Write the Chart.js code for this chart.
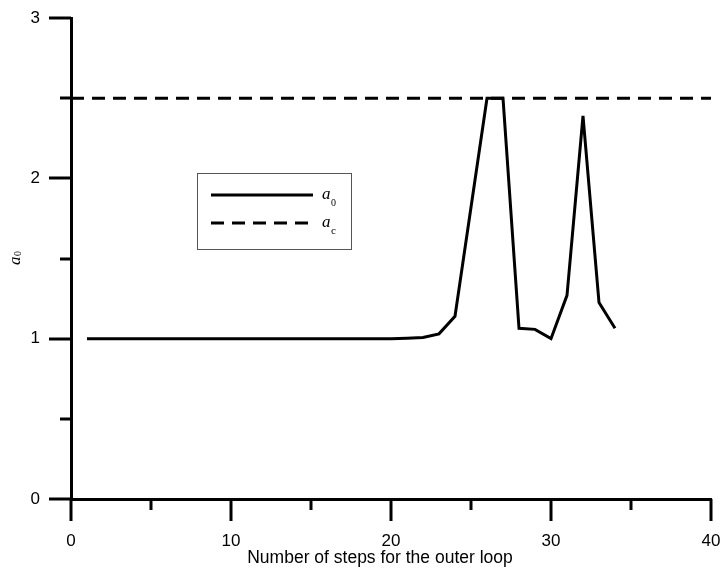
<!DOCTYPE html>
<html>
<head>
<meta charset="utf-8">
<script src="https://cdn.jsdelivr.net/npm/chart.js@4/dist/chart.umd.min.js"></script>
<style>
  html, body { margin: 0; padding: 0; background: #fff; }
  #wrap { width: 723px; height: 574px; }
</style>
</head>
<body>
<div id="wrap"><canvas id="c" width="723" height="574"></canvas></div>
<script>
// Outer-loop step number and the a0 value reached at each step
const steps = [1, 2, 3, 4, 5, 6, 7, 8, 9, 10, 11, 12, 13, 14, 15, 16, 17,
  18, 19, 20, 21, 22, 23, 24, 25, 26, 27, 28, 29, 30, 31, 32, 33, 34];
const a0Values = [1.0, 1.0, 1.0, 1.0, 1.0, 1.0, 1.0, 1.0, 1.0, 1.0, 1.0, 1.0,
  1.0, 1.0, 1.0, 1.0, 1.0, 1.0, 1.0, 1.0, 1.003, 1.008, 1.03, 1.14, 1.82, 2.5,
  2.5, 1.065, 1.058, 1.0, 1.27, 2.39, 1.225, 1.065];

// Critical value a_c, drawn across the full step range
const acSteps = [0, 40];
const acValues = [2.5, 2.5];

// Labelled (major) ticks; the half-way ticks are unlabelled
const xMajorTicks = [0, 10, 20, 30, 40];
const yMajorTicks = [0, 1, 2, 3];

const xTitle = 'Number of steps for the outer loop';

const labelFont = "'Liberation Sans', Arial, sans-serif";
const mathFont = "'Liberation Serif', 'Times New Roman', serif";

// Outward tick marks: long for labelled ticks, short for the others
const tickMarks = {
  id: 'tickMarks',
  afterDraw(chart) {
    const ctx = chart.ctx;
    const xs = chart.scales.x, ys = chart.scales.y;
    const area = chart.chartArea;
    ctx.save();
    ctx.strokeStyle = '#000';
    ctx.lineWidth = 3;
    ctx.lineCap = 'butt';
    xs.ticks.forEach(t => {
      const px = Math.round(xs.getPixelForValue(t.value));
      const len = xMajorTicks.includes(t.value) ? 22 : 11;
      ctx.beginPath();
      ctx.moveTo(px, area.bottom);
      ctx.lineTo(px, area.bottom + len);
      ctx.stroke();
    });
    ys.ticks.forEach(t => {
      const py = Math.round(ys.getPixelForValue(t.value));
      const len = yMajorTicks.includes(t.value) ? 22 : 11;
      ctx.beginPath();
      ctx.moveTo(area.left, py);
      ctx.lineTo(area.left - len, py);
      ctx.stroke();
    });
    ctx.restore();
  }
};

// Draws an italic symbol with a small subscript at (x, y) baseline
function drawSymbol(ctx, base, sub, x, y, size, subSize, drop) {
  ctx.font = 'italic ' + size + 'px ' + mathFont;
  ctx.textBaseline = 'alphabetic';
  ctx.textAlign = 'left';
  ctx.fillText(base, x, y);
  const w = ctx.measureText(base).width;
  ctx.font = subSize + 'px ' + mathFont;
  ctx.fillText(sub, x + w + 0.5, y + drop);
}

// Boxed legend, axis title and the rotated y-axis symbol
const symbolsAndLegend = {
  id: 'symbolsAndLegend',
  afterDraw(chart) {
    const ctx = chart.ctx;
    ctx.save();
    ctx.fillStyle = '#000';

    // legend frame
    ctx.strokeStyle = '#555';
    ctx.lineWidth = 1;
    ctx.strokeRect(197.5, 173.5, 154, 76);

    // legend samples
    ctx.strokeStyle = '#000';
    ctx.lineWidth = 3;
    ctx.beginPath();
    ctx.moveTo(211, 195);
    ctx.lineTo(313, 195);
    ctx.stroke();
    ctx.setLineDash([13, 8]);
    ctx.beginPath();
    ctx.moveTo(211, 223);
    ctx.lineTo(313, 223);
    ctx.stroke();
    ctx.setLineDash([]);

    drawSymbol(ctx, 'a', '0', 322, 199, 17, 10, 6.5);
    drawSymbol(ctx, 'a', 'c', 322, 227, 17, 11, 6.5);

    // x-axis title
    ctx.font = '17.5px ' + labelFont;
    ctx.textAlign = 'center';
    ctx.textBaseline = 'alphabetic';
    ctx.fillText(xTitle, 380, 563);

    // y-axis title
    ctx.translate(20, 265);
    ctx.rotate(-Math.PI / 2);
    drawSymbol(ctx, 'a', '0', 0, 0, 17, 10, 1);
    ctx.restore();
  }
};

new Chart(document.getElementById('c'), {
  type: 'line',
  data: {
    datasets: [
      {
        label: 'a0',
        data: steps.map((s, i) => ({ x: s, y: a0Values[i] })),
        borderColor: '#000',
        borderWidth: 3,
        pointRadius: 0,
        tension: 0,
        fill: false
      },
      {
        label: 'ac',
        data: acSteps.map((s, i) => ({ x: s, y: acValues[i] })),
        borderColor: '#000',
        borderWidth: 3,
        borderDash: [13, 8],
        pointRadius: 0,
        tension: 0,
        fill: false
      }
    ]
  },
  options: {
    responsive: false,
    animation: false,
    devicePixelRatio: 1,
    layout: { padding: { top: 18, right: 12, left: 0, bottom: 0 } },
    plugins: { legend: { display: false }, tooltip: { enabled: false } },
    scales: {
      x: {
        type: 'linear',
        min: 0, max: 40,
        afterFit(scale) {
          scale.height = 75;
          scale.paddingLeft = 0;
          scale.paddingRight = 0;
        },
        grid: { display: false, drawTicks: false },
        border: { display: true, color: '#000', width: 3 },
        ticks: {
          stepSize: 5,
          padding: 32,
          maxRotation: 0,
          autoSkip: false,
          color: '#000',
          font: { family: labelFont, size: 17 },
          callback: v => xMajorTicks.includes(v) ? String(v) : ''
        }
      },
      y: {
        type: 'linear',
        min: 0, max: 3,
        afterFit(scale) {
          scale.width = 71;
          scale.paddingTop = 0;
          scale.paddingBottom = 0;
        },
        grid: { display: false, drawTicks: false },
        border: { display: true, color: '#000', width: 3 },
        ticks: {
          stepSize: 0.5,
          padding: 31,
          autoSkip: false,
          color: '#000',
          font: { family: labelFont, size: 17 },
          callback: v => yMajorTicks.includes(v) ? String(v) : ''
        }
      }
    }
  },
  plugins: [tickMarks, symbolsAndLegend]
});
</script>
</body>
</html>
